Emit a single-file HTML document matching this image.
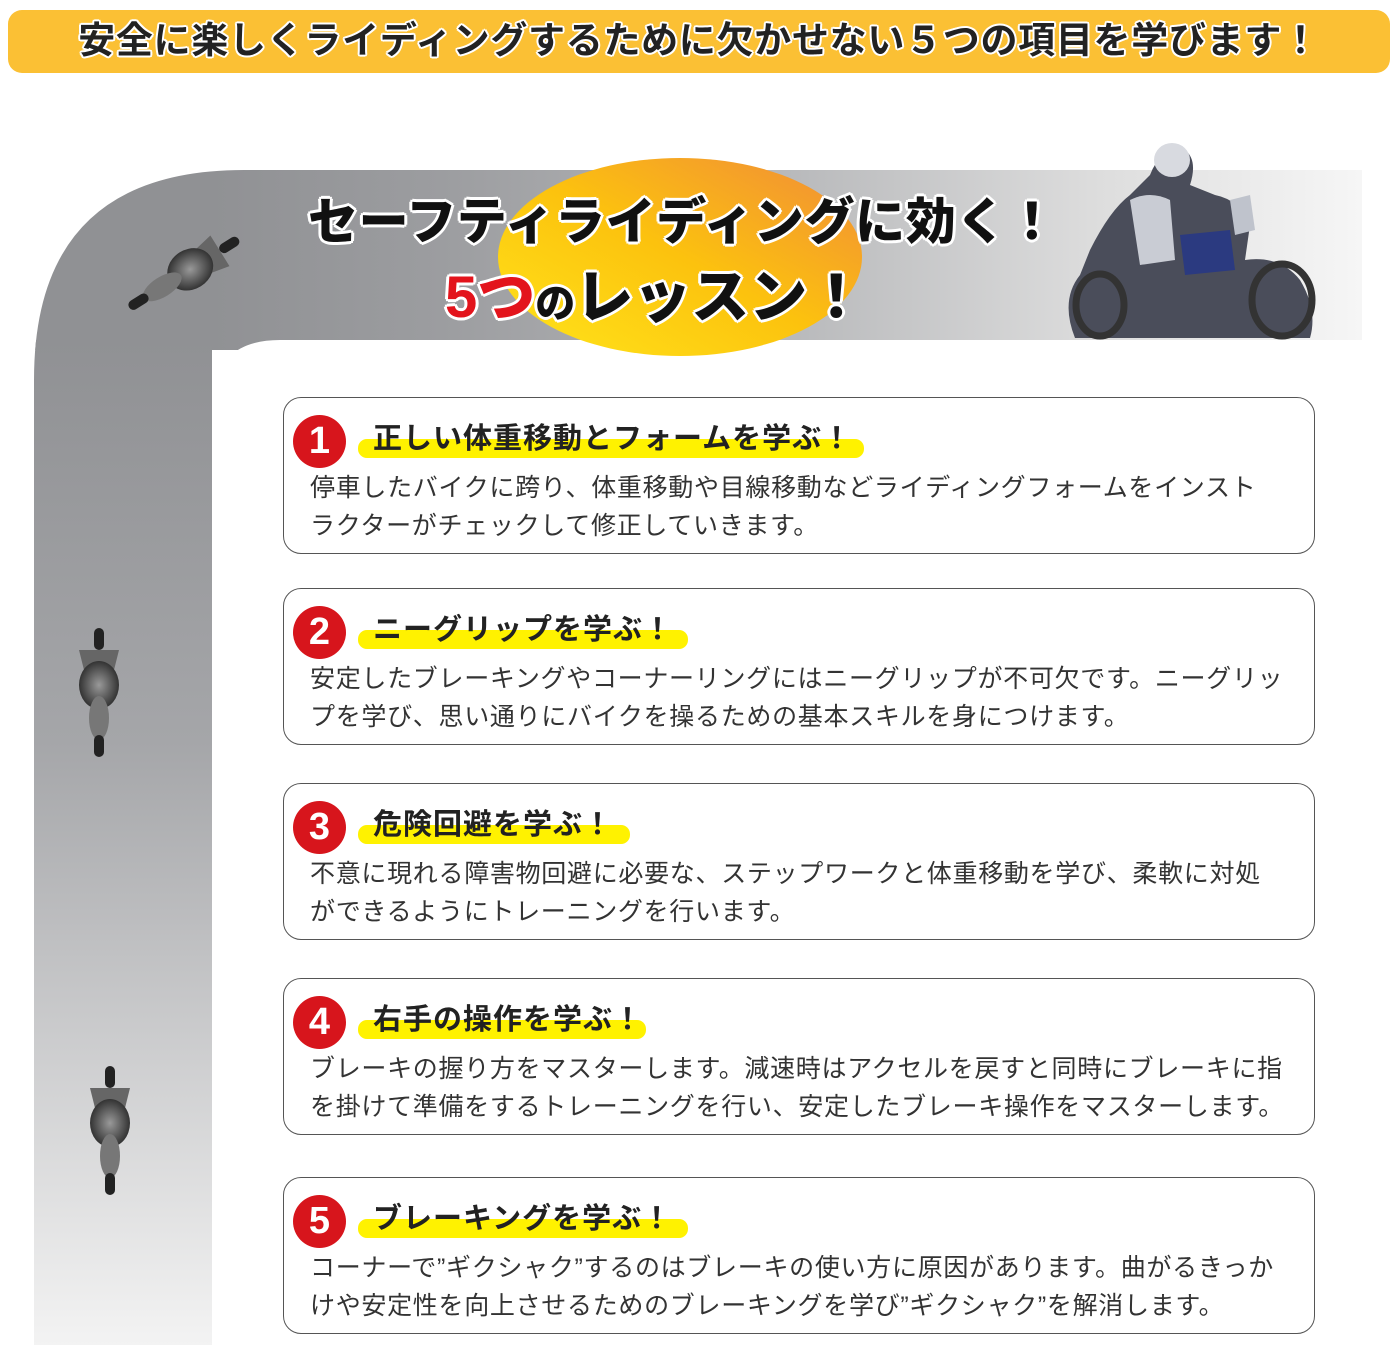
<!DOCTYPE html>
<html><head><meta charset="utf-8"><style>
body{margin:0;width:1400px;height:1355px;background:#fff;position:relative;overflow:hidden;font-family:"Liberation Sans","Noto Sans CJK JP",sans-serif;}
.hdr{position:absolute;left:8px;top:10px;width:1382px;height:63px;background:#fbc034;border-radius:14px;}
.hdr span{position:absolute;left:0;right:0;top:10px;text-align:center;font-size:37px;font-weight:bold;color:#222;letter-spacing:0.7px;line-height:42px;text-shadow:2px 0 #fff,-2px 0 #fff,0 2px #fff,0 -2px #fff,1.5px 1.5px #fff,-1.5px -1.5px #fff,1.5px -1.5px #fff,-1.5px 1.5px #fff;}
.card{position:absolute;left:283px;width:1032px;height:157px;border:1.5px solid #555;border-radius:18px;background:#fff;box-sizing:border-box;}
.num{position:absolute;left:9px;top:17px;width:53px;height:53px;border-radius:50%;background:#d7151c;color:#fff;font-weight:bold;font-size:38px;line-height:53px;text-align:center;}
.hl{position:absolute;left:74px;top:41px;height:19px;background:#fff200;border-radius:9px;}
.tt{position:absolute;left:89px;top:24px;font-size:29px;font-weight:bold;color:#222;letter-spacing:1px;white-space:nowrap;line-height:34px;}
.bd{position:absolute;left:26px;top:71px;font-size:25px;color:#333;letter-spacing:0.7px;line-height:38px;white-space:nowrap;}
.big{position:absolute;font-weight:900;color:#111;white-space:nowrap;text-shadow:3px 0 #fff,-3px 0 #fff,0 3px #fff,0 -3px #fff,2px 2px #fff,-2px -2px #fff,2px -2px #fff,-2px 2px #fff;}
</style></head><body>
<svg width="1400" height="1355" style="position:absolute;left:0;top:0">
<defs>
<clipPath id="road"><path d="M34,1345 L34,380 Q34,170 244,170 L1362,170 L1362,340 L280,340 Q212,340 212,408 L212,1345 Z"/></clipPath>
<linearGradient id="gh" x1="212" y1="0" x2="1362" y2="0" gradientUnits="userSpaceOnUse">
<stop offset="0" stop-color="#909194"/><stop offset="0.2" stop-color="#9c9da0"/><stop offset="0.5" stop-color="#b8b9bb"/><stop offset="0.78" stop-color="#dedede"/><stop offset="1" stop-color="#f6f6f6"/></linearGradient>
<linearGradient id="gv" x1="0" y1="340" x2="0" y2="1345" gradientUnits="userSpaceOnUse">
<stop offset="0" stop-color="#909194"/><stop offset="0.4" stop-color="#a5a6a9"/><stop offset="1" stop-color="#f3f3f3"/></linearGradient>
<linearGradient id="go" x1="0" y1="1" x2="1" y2="0">
<stop offset="0" stop-color="#ffe51a"/><stop offset="0.5" stop-color="#fcc20e"/><stop offset="1" stop-color="#f08a3a"/></linearGradient>
<radialGradient id="bk" cx="0.5" cy="0.5" r="0.5"><stop offset="0" stop-color="#999"/><stop offset="1" stop-color="#333"/></radialGradient>
</defs>
<g clip-path="url(#road)">
<rect x="0" y="160" width="212" height="190" fill="#909194"/>
<rect x="0" y="340" width="212" height="1010" fill="url(#gv)"/>
<rect x="212" y="160" width="1150" height="190" fill="url(#gh)"/>
</g>
<ellipse cx="680" cy="257" rx="182" ry="99" fill="url(#go)"/>
<g>
<path d="M1150,175 Q1160,148 1185,150 Q1198,160 1190,185 L1215,195 Q1240,200 1250,225 L1245,260 Q1280,255 1300,280 Q1318,310 1310,338 L1075,338 Q1060,300 1080,275 L1090,250 Q1110,210 1130,195 Z" fill="#4a4d5a"/>
<ellipse cx="1282" cy="300" rx="30" ry="36" fill="none" stroke="#333" stroke-width="7"/>
<ellipse cx="1100" cy="305" rx="24" ry="31" fill="none" stroke="#333" stroke-width="7"/>
<path d="M1130,200 Q1150,190 1170,200 L1175,260 L1140,265 Z" fill="#c9ccd4"/>
<ellipse cx="1172" cy="160" rx="18" ry="17" fill="#d8dae0"/>
<path d="M1180,235 L1230,230 L1235,270 L1185,275 Z" fill="#2b3a80"/>
<path d="M1230,200 L1250,195 L1255,230 L1235,235Z" fill="#bfc3cc"/>
</g>
<g transform="translate(186,272) rotate(58)">
<rect x="-5" y="-62" width="10" height="22" rx="5" fill="#222"/><path d="M-18,-40 L18,-40 L14,-20 L-14,-20Z" fill="#666"/>
<ellipse cx="0" cy="-5" rx="20" ry="24" fill="url(#bk)"/><ellipse cx="0" cy="28" rx="10" ry="22" fill="#777"/><rect x="-5" y="45" width="10" height="22" rx="5" fill="#222"/></g>
<g transform="translate(99,690)">
<rect x="-5" y="-62" width="10" height="22" rx="5" fill="#222"/><path d="M-20,-40 L20,-40 L15,-20 L-15,-20Z" fill="#666"/>
<ellipse cx="0" cy="-5" rx="20" ry="24" fill="url(#bk)"/><ellipse cx="0" cy="28" rx="10" ry="22" fill="#777"/><rect x="-5" y="45" width="10" height="22" rx="5" fill="#222"/></g>
<g transform="translate(110,1128)">
<rect x="-5" y="-62" width="10" height="22" rx="5" fill="#222"/><path d="M-20,-40 L20,-40 L15,-20 L-15,-20Z" fill="#666"/>
<ellipse cx="0" cy="-5" rx="20" ry="24" fill="url(#bk)"/><ellipse cx="0" cy="28" rx="10" ry="22" fill="#777"/><rect x="-5" y="45" width="10" height="22" rx="5" fill="#222"/></g>
</svg>
<div class="hdr"><span>安全に楽しくライディングするために欠かせない５つの項目を学びます！</span></div>
<div class="big" style="left:308px;top:194px;font-size:50px;line-height:56px;letter-spacing:0.6px;">セーフティライディングに効く！</div>
<div class="big" style="left:445px;top:266px;font-size:58px;line-height:64px;"><span style="color:#e3141c">5つ</span><span style="font-size:40px">の</span>レッスン！</div>

<div class="card" style="top:397px"><div class="num">1</div><div class="hl" style="width:506px"></div><div class="tt">正しい体重移動とフォームを学ぶ！</div>
<div class="bd">停車したバイクに跨り、体重移動や目線移動などライディングフォームをインスト<br>ラクターがチェックして修正していきます。</div></div>
<div class="card" style="top:588px"><div class="num">2</div><div class="hl" style="width:330px"></div><div class="tt">ニーグリップを学ぶ！</div>
<div class="bd">安定したブレーキングやコーナーリングにはニーグリップが不可欠です。ニーグリッ<br>プを学び、思い通りにバイクを操るための基本スキルを身につけます。</div></div>
<div class="card" style="top:783px"><div class="num">3</div><div class="hl" style="width:272px"></div><div class="tt">危険回避を学ぶ！</div>
<div class="bd">不意に現れる障害物回避に必要な、ステップワークと体重移動を学び、柔軟に対処<br>ができるようにトレーニングを行います。</div></div>
<div class="card" style="top:978px"><div class="num">4</div><div class="hl" style="width:288px"></div><div class="tt">右手の操作を学ぶ！</div>
<div class="bd">ブレーキの握り方をマスターします。減速時はアクセルを戻すと同時にブレーキに指<br>を掛けて準備をするトレーニングを行い、安定したブレーキ操作をマスターします。</div></div>
<div class="card" style="top:1177px"><div class="num">5</div><div class="hl" style="width:330px"></div><div class="tt">ブレーキングを学ぶ！</div>
<div class="bd">コーナーで”ギクシャク”するのはブレーキの使い方に原因があります。曲がるきっか<br>けや安定性を向上させるためのブレーキングを学び”ギクシャク”を解消します。</div></div>
</body></html>
